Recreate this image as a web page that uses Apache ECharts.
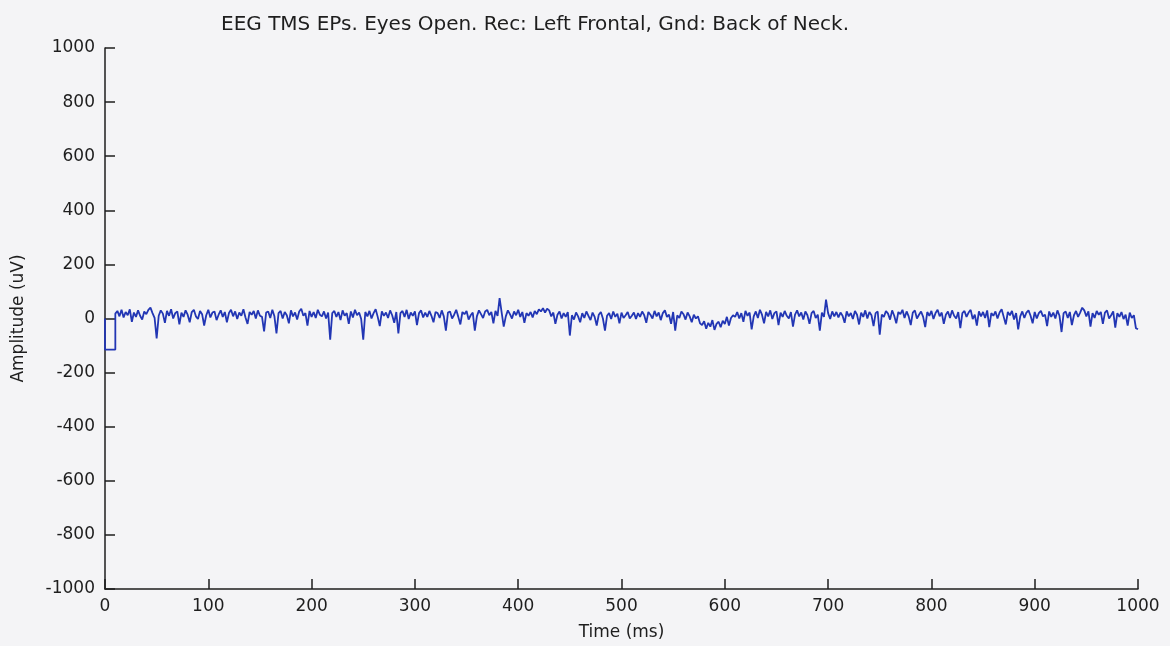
<!DOCTYPE html>
<html>
<head>
<meta charset="utf-8">
<script src="https://cdn.jsdelivr.net/npm/echarts@6/dist/echarts.min.js"></script>
<style>
  html, body { margin: 0; padding: 0; background: #f4f4f6; }
  #chart { width: 1170px; height: 646px; }
</style>
</head>
<body>
<div id="chart"></div>
<script>
// stimulus artefact at the start of the sweep (ms, uV)
var artifactTimes = [0, 0, 10]
var artifactValues = [0, -115, -115]

// EEG trace after the artefact, one sample every 2 ms from 10 ms
var traceStartMs = 10
var traceStepMs = 2
var traceValues = [
  18, 28, 8, 32, 4, 24, 12, 34, -12, 22, 6, 30, 10, -4, 26, 16, 32, 40, 20, 2, -74, 10, 30, 18, -16, 28, 10, 34, 0, 20, 26, -22, 22, 6, 30, 14, -14, 24, 32, 8, -2, 28, 16, -26, 12, 32, 4, 22, 26, -6,
  14, 30, 6, 24, -14, 20, 32, 8, 26, -2, 22, 10, 34, 4, -20, 24, 14, 28, 0, 30, 10, 6, -48, 22, 26, 2, 32, 8, -55, 20, 28, 0, 24, 12, -18, 30, 8, 22, -4, 26, 36, 10, 20, -26, 28, 6, 24, 2, 32, 14,
  8, 26, 0, 22, -78, 20, 28, 6, 24, -6, 30, 10, 20, -20, 26, 4, 32, 12, 22, -2, -78, 24, 8, 28, 0, 20, 34, 6, -28, 26, 10, 22, 2, 30, 12, -16, 24, -55, 20, 28, 6, 32, -2, 22, 10, 26, -24, 20, 30, 4,
  22, 6, 28, 10, -14, 24, 20, 2, 30, 8, -45, 22, 26, 0, 14, 32, 6, -22, 24, 16, 28, -4, 12, 22, -45, 8, 30, 16, 2, 26, 32, 12, 24, -18, 28, 10, 75, 22, -30, 8, 30, 16, 0, 26, 12, 32, 6, 24, -16, 20,
  10, 24, 4, 28, 16, 34, 26, 38, 22, 36, 30, 8, 22, -20, 14, 26, 0, 20, 6, 24, -63, 12, -4, 22, 8, -14, 20, 2, 26, 10, -6, 22, 6, -26, 14, 24, 0, -45, 10, 20, -2, 26, 6, 18, -18, 22, 2, 12, 24, 0,
  10, 22, -2, 20, 6, 26, 12, -16, 24, 14, 0, 28, 8, 22, -6, 20, 30, 6, 14, -20, 24, -45, 12, 2, 26, 16, -4, 22, 8, -14, 14, 0, 8, -18, -24, -10, -38, -16, -30, -6, -42, -20, -12, -32, -8, -20, 6, -26, 2, 12,
  6, 24, 0, 20, -12, 28, 10, 22, -40, 8, 26, 2, 32, 14, -18, 24, 8, 30, -2, 20, 26, -24, 22, 6, 28, 10, 0, 24, -30, 14, 30, 8, 22, -4, 26, 12, -20, 20, 28, 2, 14, -45, 22, 6, 70, 20, -2, 26, 8, 24,
  4, 22, 10, -16, 26, 8, 20, -2, 28, 14, -22, 22, 6, 30, 0, 24, 12, -28, 20, 26, -60, 14, 6, 28, 18, -4, 30, 10, -18, 24, 16, 32, 2, 26, 8, -24, 22, 30, 0, 14, 26, 6, -32, 24, 10, 28, -2, 20, 32, 8,
  22, -20, 14, 26, 2, 30, 10, 0, 24, -36, 20, 28, 6, 22, 32, -2, 14, -26, 26, 8, 24, 2, 30, -32, 20, 10, 26, 0, 22, 34, 6, -22, 24, 12, 28, -4, 20, -40, 8, 26, 2, 22, 30, 10, -18, 24, 0, 20, 28, 8,
  14, -28, 26, 6, 22, 0, 30, 10, -50, 20, 26, 2, 24, -24, 12, 28, 6, 22, 40, 30, 8, 26, -30, 20, 2, 28, 14, 24, -20, 22, 30, 0, 12, 26, -34, 20, 6, 24, -2, 14, -26, 22, 2, 12, -36, -40
]

var titleText = 'EEG TMS EPs. Eyes Open. Rec: Left Frontal, Gnd: Back of Neck.'
var xName = 'Time (ms)'
var yName = 'Amplitude (uV)'

var fontFamily = 'DejaVu Sans, Liberation Sans, Arial, sans-serif'
var inkColor = '#1e1e1e'
var traceColor = '#2236b4'

// build [time, value] pairs for the line
var points = []
for (var a = 0; a < artifactTimes.length; a++) {
  points.push([artifactTimes[a], artifactValues[a]])
}
for (var i = 0; i < traceValues.length; i++) {
  points.push([traceStartMs + i * traceStepMs, traceValues[i]])
}

var myChart = echarts.init(document.getElementById('chart'), null, { renderer: 'canvas' })

// ticks point into the plot, matlab style (negative length flips them)
var tickStyle = { show: true, inside: false, length: -10, lineStyle: { color: inkColor, width: 1.5 } }

var options = {
  backgroundColor: '#f4f4f6',
  animation: false,
  title: {
    text: titleText,
    left: 216,
    top: 10,
    textStyle: { fontFamily: fontFamily, fontSize: 20, fontWeight: 'normal', color: inkColor }
  },
  grid: {
    left: 105,
    right: 32,
    top: 48,
    bottom: 57,
    containLabel: false
  },
  xAxis: {
    type: 'value',
    min: 0,
    max: 1000,
    interval: 100,
    name: xName,
    nameLocation: 'middle',
    nameGap: 35,
    nameTextStyle: { fontFamily: fontFamily, fontSize: 17, color: inkColor },
    axisLine: { show: true, onZero: false, lineStyle: { color: inkColor, width: 1.5 } },
    axisTick: tickStyle,
    axisLabel: { fontFamily: fontFamily, fontSize: 17, color: inkColor, margin: 9, formatter: function (v) { return String(v) } },
    splitLine: { show: false }
  },
  yAxis: {
    type: 'value',
    min: -1000,
    max: 1000,
    interval: 200,
    name: yName,
    nameLocation: 'middle',
    nameGap: 78,
    nameRotate: 90,
    nameTextStyle: { fontFamily: fontFamily, fontSize: 17, color: inkColor },
    axisLine: { show: true, onZero: false, lineStyle: { color: inkColor, width: 1.5 } },
    axisTick: tickStyle,
    axisLabel: { fontFamily: fontFamily, fontSize: 17, color: inkColor, margin: 10, formatter: function (v) { return String(v) } },
    splitLine: { show: false }
  },
  series: [
    {
      type: 'line',
      data: points,
      showSymbol: false,
      symbol: 'none',
      lineStyle: { color: traceColor, width: 1.8 },
      silent: true
    }
  ]
}

myChart.setOption(options)
</script>
</body>
</html>
